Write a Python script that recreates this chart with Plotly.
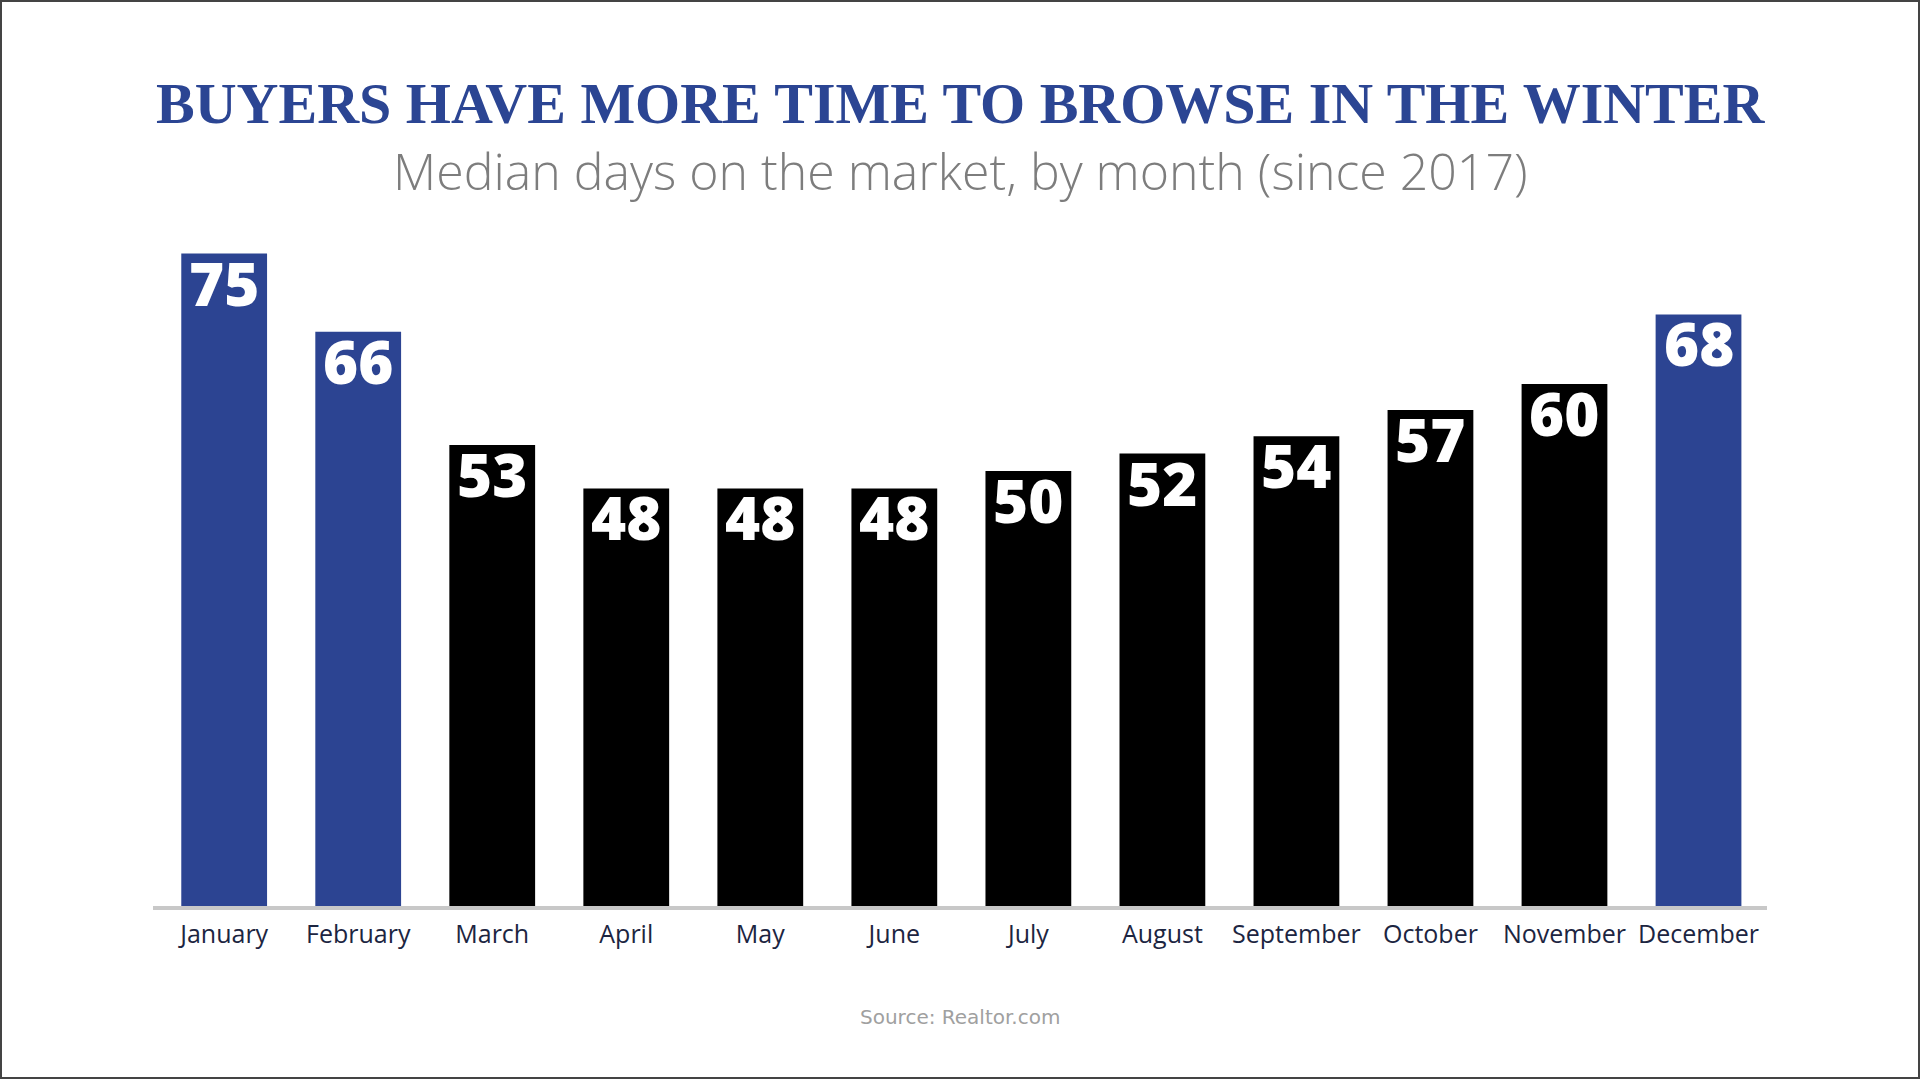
import plotly.graph_objects as go

months = ["January", "February", "March", "April", "May", "June", "July",
          "August", "September", "October", "November", "December"]
days = [75, 66, 53, 48, 48, 48, 50, 52, 54, 57, 60, 68]
winter = ["January", "February", "December"]

title_text = "BUYERS HAVE MORE TIME TO BROWSE IN THE WINTER"
subtitle_text = "Median days on the market, by month (since 2017)"
source_text = "Source: Realtor.com"

BLUE = "#2c4492"
BLACK = "#000000"
colors = [BLUE if m in winter else BLACK for m in months]

W, H = 1920, 1079
L, R, T, B = 153, 153, 210, 173
PH = H - T - B

def ypix(p):
    return (H - B - p) / PH

fig = go.Figure(go.Bar(
    x=months, y=days,
    marker=dict(color=colors, line=dict(width=0)),
    hoverinfo="skip",
))

value_labels = [
    dict(text=str(v), x=m, y=v, xref="x", yref="y",
         xanchor="center", yanchor="top", yshift=14, showarrow=False,
         font=dict(family="Open Sans", size=60, color="white", weight=800))
    for m, v in zip(months, days)
]

fig.update_layout(
    width=W, height=H,
    margin=dict(l=L, r=R, t=T, b=B, pad=0),
    paper_bgcolor="white", plot_bgcolor="white",
    bargap=0.36,
    showlegend=False,
    xaxis=dict(
        range=[-0.531, 11.511], showgrid=False, zeroline=False,
        showline=True, linecolor="#c8c8c8", linewidth=4,
        ticks="", ticklabelstandoff=3,
        tickfont=dict(family="Open Sans", size=25, color="#1c2541"),
    ),
    yaxis=dict(range=[0, 80], visible=False, showgrid=False, zeroline=False),
    annotations=value_labels + [
        dict(text="<b>" + title_text + "</b>", xref="paper", yref="paper",
             x=0.5, y=ypix(104), xanchor="center", yanchor="middle",
             showarrow=False,
             font=dict(family="Liberation Serif", size=58, color="#2b4593")),
        dict(text=subtitle_text, xref="paper", yref="paper",
             x=0.5, y=ypix(171), xanchor="center", yanchor="middle",
             showarrow=False,
             font=dict(family="Open Sans", size=50, color="#7d7d7d", weight=300)),
        dict(text=source_text, xref="paper", yref="paper",
             x=0.5, y=ypix(1017), xanchor="center", yanchor="middle",
             showarrow=False,
             font=dict(family="DejaVu Sans", size=20, color="#a0a0a0")),
    ],
    shapes=[
        dict(type="rect", xref="paper", yref="paper",
             x0=(-L + 1) / (W - L - R), x1=(W - L - 1) / (W - L - R),
             y0=(-B + 1) / PH, y1=(PH + T - 1) / PH,
             line=dict(color="#444444", width=2), fillcolor="rgba(0,0,0,0)",
             layer="below"),
    ],
)

fig.write_html("out.html",
               config={"displayModeBar": False},
               post_script="document.body.style.margin='0';"
                           "document.body.style.overflow='hidden';")
